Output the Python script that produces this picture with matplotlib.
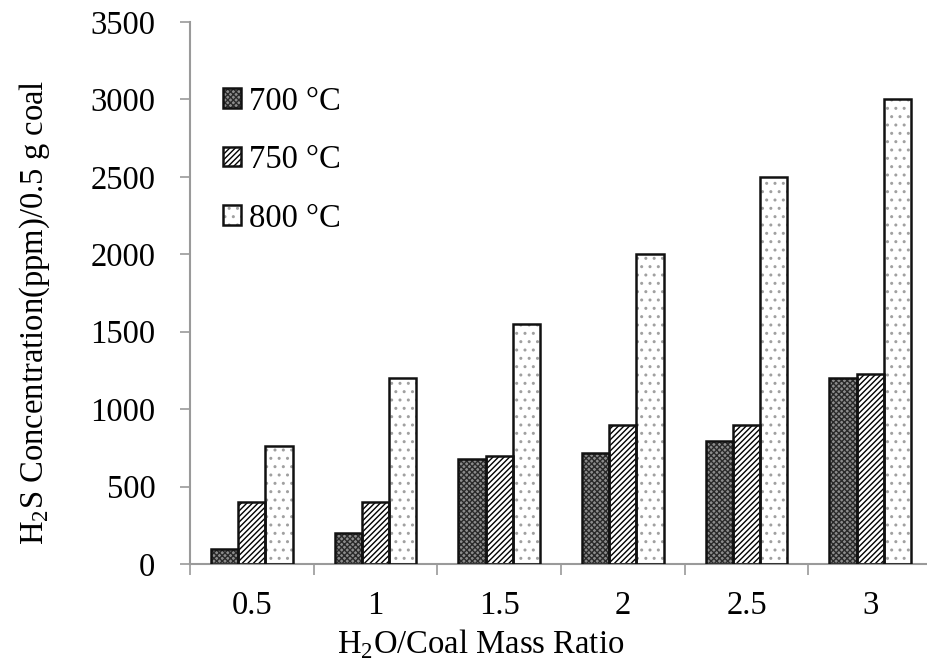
import matplotlib.pyplot as plt
import numpy as np

plt.rcParams['font.family'] = ['Liberation Serif', 'DejaVu Serif']
plt.rcParams['mathtext.fontset'] = 'custom'
plt.rcParams['mathtext.rm'] = 'Liberation Serif'
plt.rcParams['hatch.linewidth'] = 1.0

ratios = ['0.5', '1', '1.5', '2', '2.5', '3']
temps = ['700 \u00b0C', '750 \u00b0C', '800 \u00b0C']
h2s_700 = [100, 200, 675, 720, 795, 1200]
h2s_750 = [400, 400, 700, 895, 895, 1230]
h2s_800 = [765, 1200, 1550, 2000, 2500, 3000]

FS = 23.5

fig = plt.figure(figsize=(9.27, 6.61), dpi=100)
ax = fig.add_axes([190 / 927, 1 - 564 / 661, 742 / 927, 542 / 661])

x = np.arange(len(ratios))
w = 0.22
styles = [
    dict(facecolor='#8c8c8c', hatch='xxxxxx', hcolor='#2a2a2a'),
    dict(facecolor='white', hatch='//////', hcolor='black'),
    dict(facecolor='white', hatch='..', hcolor='#a0a0a0'),
]
handles = []
for i, (vals, st) in enumerate(zip([h2s_700, h2s_750, h2s_800], styles)):
    fill = ax.bar(x + (i - 1) * w, vals, w, facecolor=st['facecolor'],
                  edgecolor=st['hcolor'], hatch=st['hatch'], linewidth=0, zorder=2)
    # outline drawn separately in black
    edge = ax.bar(x + (i - 1) * w, vals, w, facecolor='none', edgecolor='#111111',
                  linewidth=1.8, zorder=3)
    handles.append((fill, edge))

ax.set_xlim(-0.5, 5.5)
ax.set_ylim(0, 3500)
ax.set_yticks(np.arange(0, 3501, 500))
ax.set_xticks(x)
ax.set_xticklabels(ratios)
ax.set_xticks(np.arange(-0.5, 6, 1), minor=True)
ax.tick_params(axis='x', which='major', length=0, pad=19, labelsize=FS)
ax.tick_params(axis='x', which='minor', length=8, width=1.2, color='#9a9a9a', direction='out')
ax.tick_params(axis='y', length=7, width=1.2, color='#9a9a9a', labelsize=FS, pad=18)

for s in ['top', 'right']:
    ax.spines[s].set_visible(False)
for s in ['left', 'bottom']:
    ax.spines[s].set_color('#9a9a9a')
    ax.spines[s].set_linewidth(1.5)

ax.set_ylabel(r'H$_\mathregular{2}$S Concentration(ppm)/0.5 g coal', fontsize=FS)
ax.yaxis.set_label_coords((52 - 190) / 742, (564 - 312) / 542)
ax.set_xlabel(r'H$_\mathregular{2}$O/Coal Mass Ratio', fontsize=FS)
ax.xaxis.set_label_coords((481 - 190) / 742, (564 - 627) / 542)

leg = ax.legend([tuple(h) for h in handles], temps, loc='upper left',
                bbox_to_anchor=((223 - 190) / 742, (564 - 86) / 542),
                borderaxespad=0, borderpad=0, frameon=False,
                fontsize=FS, handlelength=0.55, handleheight=0.55, handletextpad=0.25,
                labelspacing=0.86)

fig.savefig('out.png', dpi=100)
